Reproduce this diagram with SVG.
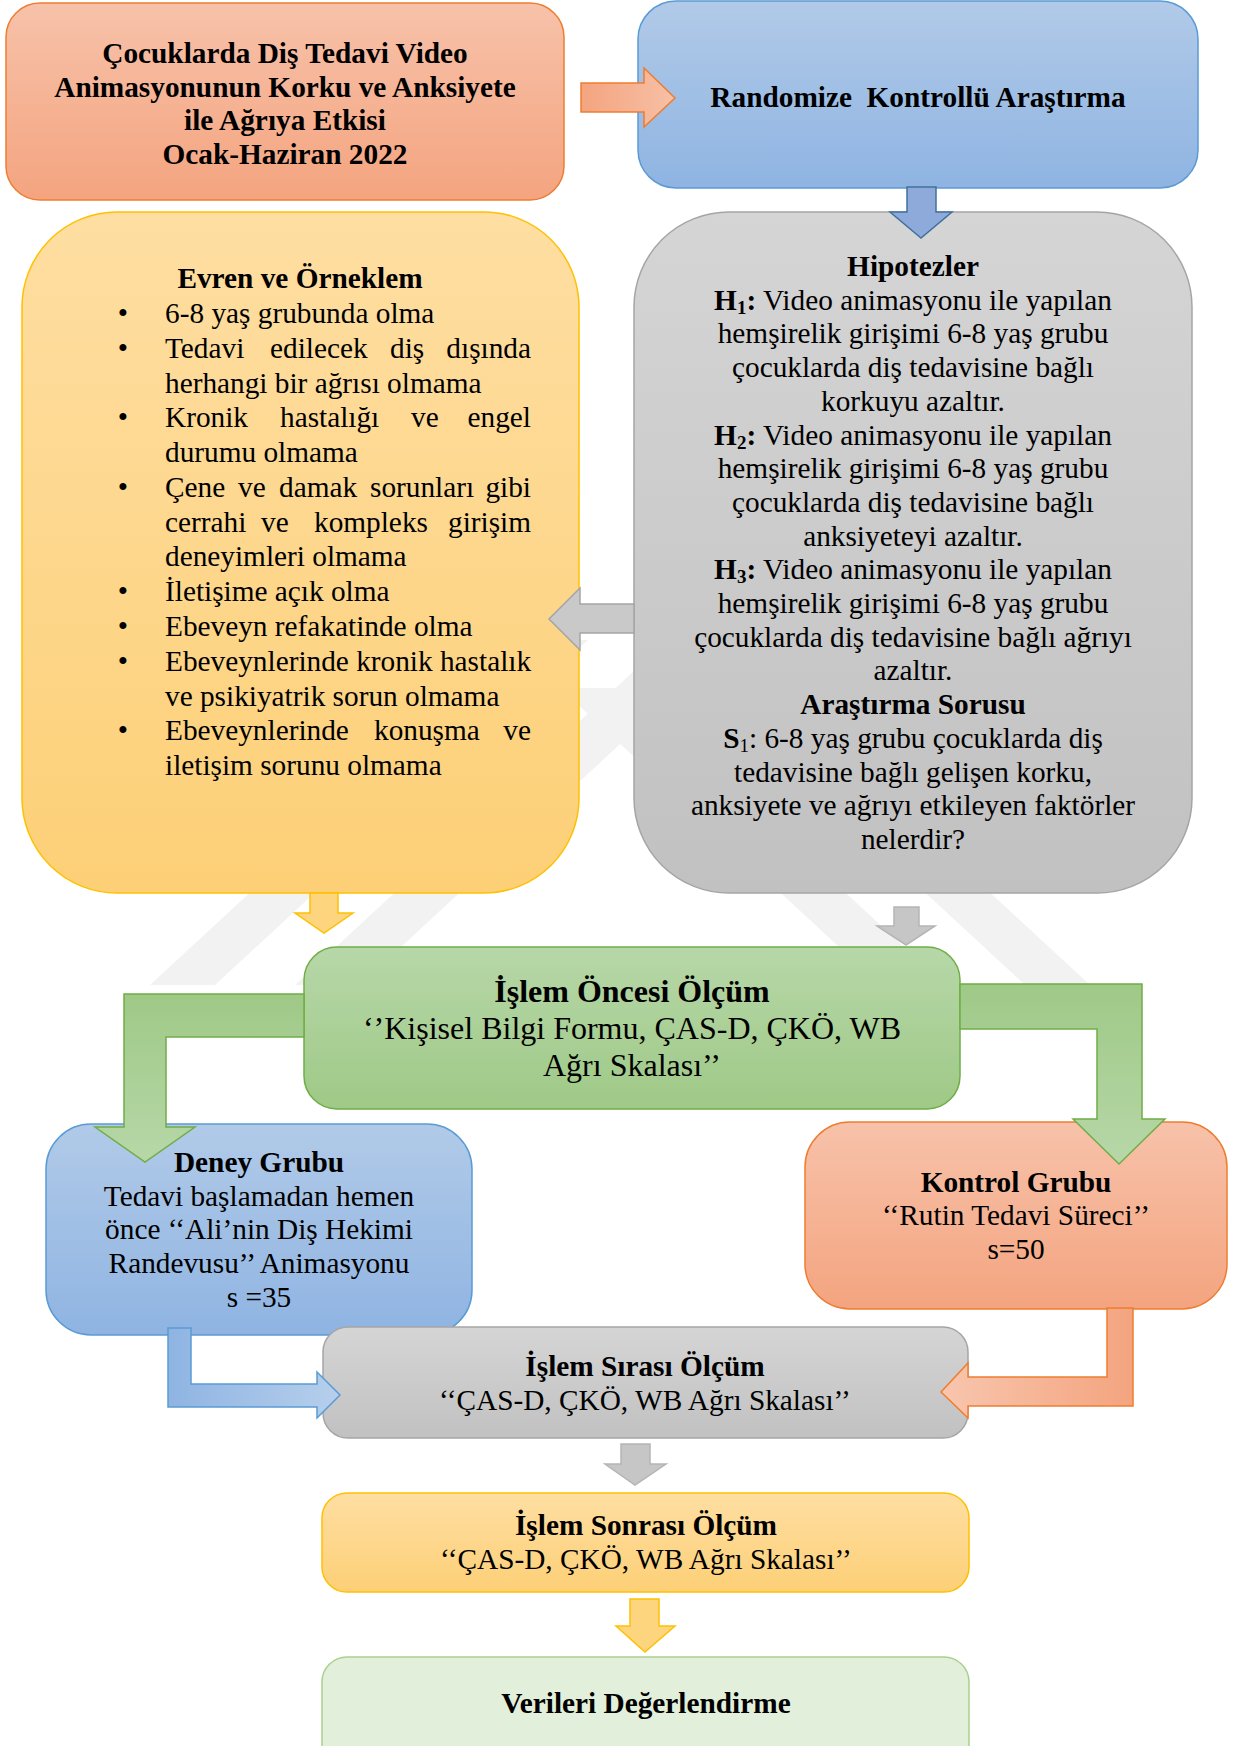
<svg xmlns="http://www.w3.org/2000/svg" width="1233" height="1746" viewBox="0 0 1233 1746">
<defs>
<linearGradient id="gOrange" x1="0" y1="0" x2="0" y2="1"><stop offset="0" stop-color="#f7c2aa"/><stop offset="1" stop-color="#f4a47f"/></linearGradient>
<linearGradient id="gBlue" x1="0" y1="0" x2="0" y2="1"><stop offset="0" stop-color="#b1cae8"/><stop offset="1" stop-color="#8fb4e2"/></linearGradient>
<linearGradient id="gYellow" x1="0" y1="0" x2="0" y2="1"><stop offset="0" stop-color="#fedea2"/><stop offset="1" stop-color="#fdd077"/></linearGradient>
<linearGradient id="gGray" x1="0" y1="0" x2="0" y2="1"><stop offset="0" stop-color="#d5d5d5"/><stop offset="1" stop-color="#c1c1c1"/></linearGradient>
<linearGradient id="gGreen" x1="0" y1="0" x2="0" y2="1"><stop offset="0" stop-color="#b7d7a8"/><stop offset="1" stop-color="#9fc987"/></linearGradient>
<linearGradient id="gGreenUp" x1="0" y1="1" x2="0" y2="0"><stop offset="0" stop-color="#b7d7a8"/><stop offset="1" stop-color="#9fc987"/></linearGradient>
<linearGradient id="gBlueH" x1="0" y1="0" x2="1" y2="0"><stop offset="0" stop-color="#8fb4e2"/><stop offset="1" stop-color="#b6cfec"/></linearGradient>
<linearGradient id="gOrangeH" x1="1" y1="0" x2="0" y2="0"><stop offset="0" stop-color="#f4a47f"/><stop offset="1" stop-color="#f8c6ae"/></linearGradient>
<linearGradient id="gOrangeR" x1="0" y1="0" x2="1" y2="0"><stop offset="0" stop-color="#f4a47f"/><stop offset="1" stop-color="#f7c0a6"/></linearGradient>
<style>
text{font-family:"Liberation Serif","Times New Roman",serif;font-size:29.3px;fill:#000}
.c{text-anchor:middle}
.b{font-weight:bold}
.e{text-anchor:end}
.sub{font-size:19px}
.big{font-size:32px}
.or{fill:url(#gOrange);stroke:#ed7d31;stroke-width:1.5}
.bl{fill:url(#gBlue);stroke:#5b9bd5;stroke-width:1.5}
.ye{fill:url(#gYellow);stroke:#ffc000;stroke-width:1.5}
.gr{fill:url(#gGray);stroke:#a5a5a5;stroke-width:1.5}
.gn{fill:url(#gGreen);stroke:#70ad47;stroke-width:1.5}
.lg{fill:#e2efda;stroke:#a9d18e;stroke-width:1.5}
.wm{fill:#f2f2f2}
</style>
</defs>
<rect width="1233" height="1746" fill="#ffffff"/>
<g id="watermark">
<polygon class="wm" points="150,985 215,985 588,640 523,640"/>
<polygon class="wm" points="295,985 360,985 700,670 635,670"/>
<polygon class="wm" points="1090,985 1025,985 717,700 782,700"/>
<polygon class="wm" points="945,985 880,985 560,688 625,688"/>
</g>
<g id="title">
<rect class="or" x="6" y="3" width="558" height="197" rx="34"/>
<text class="c b" x="285" y="63">Çocuklarda Diş Tedavi Video</text>
<text class="c b" x="285" y="97">Animasyonunun Korku ve Anksiyete</text>
<text class="c b" x="285" y="130">ile Ağrıya Etkisi</text>
<text class="c b" x="285" y="164">Ocak-Haziran 2022</text>
</g>
<g id="randomize">
<rect class="bl" x="638" y="1" width="560" height="187" rx="38"/>
<text class="c b" x="918" y="107" xml:space="preserve">Randomize  Kontrollü Araştırma</text>
</g>
<g id="evren">
<rect class="ye" x="22" y="212" width="557" height="681" rx="95"/>
<text class="c b" x="300" y="288">Evren ve Örneklem</text>
<g class="c">
<text class="c" x="123" y="323">•</text>
<text class="c" x="123" y="358">•</text>
<text class="c" x="123" y="427">•</text>
<text class="c" x="123" y="497">•</text>
<text class="c" x="123" y="601">•</text>
<text class="c" x="123" y="636">•</text>
<text class="c" x="123" y="671">•</text>
<text class="c" x="123" y="740">•</text>
</g>
<text x="165" y="323">6-8 yaş grubunda olma</text>
<text y="358"><tspan x="165">Tedavi</tspan><tspan x="270">edilecek</tspan><tspan x="390">diş</tspan><tspan x="531" text-anchor="end">dışında</tspan></text>
<text x="165" y="392.5">herhangi bir ağrısı olmama</text>
<text y="427"><tspan x="165">Kronik</tspan><tspan x="280">hastalığı</tspan><tspan x="411">ve</tspan><tspan x="531" text-anchor="end">engel</tspan></text>
<text x="165" y="462">durumu olmama</text>
<text y="497"><tspan x="165">Çene</tspan><tspan x="238">ve</tspan><tspan x="279">damak</tspan><tspan x="370">sorunları</tspan><tspan x="531" text-anchor="end">gibi</tspan></text>
<text y="531.6"><tspan x="165">cerrahi</tspan><tspan x="261">ve</tspan><tspan x="314">kompleks</tspan><tspan x="531" text-anchor="end">girişim</tspan></text>
<text x="165" y="566.4">deneyimleri olmama</text>
<text x="165" y="601">İletişime açık olma</text>
<text x="165" y="636">Ebeveyn refakatinde olma</text>
<text x="165" y="671">Ebeveynlerinde kronik hastalık</text>
<text x="165" y="705.5">ve psikiyatrik sorun olmama</text>
<text y="740"><tspan x="165">Ebeveynlerinde</tspan><tspan x="374">konuşma</tspan><tspan x="531" text-anchor="end">ve</tspan></text>
<text x="165" y="775">iletişim sorunu olmama</text>
</g>
<g id="hipotezler">
<rect class="gr" x="634" y="212" width="558" height="681" rx="95"/>
<text class="c b" x="913" y="276">Hipotezler</text>
<text class="c" x="913" y="309.7"><tspan class="b">H</tspan><tspan class="b sub" dy="4">1</tspan><tspan class="b" dy="-4">:</tspan> Video animasyonu ile yapılan</text>
<text class="c" x="913" y="343.4">hemşirelik girişimi 6-8 yaş grubu</text>
<text class="c" x="913" y="377.1">çocuklarda diş tedavisine bağlı</text>
<text class="c" x="913" y="410.8">korkuyu azaltır.</text>
<text class="c" x="913" y="444.5"><tspan class="b">H</tspan><tspan class="b sub" dy="4">2</tspan><tspan class="b" dy="-4">:</tspan> Video animasyonu ile yapılan</text>
<text class="c" x="913" y="478.2">hemşirelik girişimi 6-8 yaş grubu</text>
<text class="c" x="913" y="511.9">çocuklarda diş tedavisine bağlı</text>
<text class="c" x="913" y="545.6">anksiyeteyi azaltır.</text>
<text class="c" x="913" y="579.3"><tspan class="b">H</tspan><tspan class="b sub" dy="4">3</tspan><tspan class="b" dy="-4">:</tspan> Video animasyonu ile yapılan</text>
<text class="c" x="913" y="613">hemşirelik girişimi 6-8 yaş grubu</text>
<text class="c" x="913" y="646.7">çocuklarda diş tedavisine bağlı ağrıyı</text>
<text class="c" x="913" y="680.4">azaltır.</text>
<text class="c b" x="913" y="714.1">Araştırma Sorusu</text>
<text class="c" x="913" y="747.8"><tspan class="b">S</tspan><tspan class="sub" dy="4">1</tspan><tspan dy="-4">: 6-8 yaş grubu çocuklarda diş</tspan></text>
<text class="c" x="913" y="781.5">tedavisine bağlı gelişen korku,</text>
<text class="c" x="913" y="815.2">anksiyete ve ağrıyı etkileyen faktörler</text>
<text class="c" x="913" y="848.9">nelerdir?</text>
</g>
<g id="islem-oncesi">
<rect class="gn" x="304" y="947" width="656" height="162" rx="33"/>
<text class="c b big" x="632" y="1002">İşlem Öncesi Ölçüm</text>
<text class="c big" x="632" y="1039">‘’Kişisel Bilgi Formu, ÇAS-D, ÇKÖ, WB</text>
<text class="c big" x="632" y="1076">Ağrı Skalası’’</text>
</g>
<g id="deney">
<rect class="bl" x="46" y="1124" width="426" height="211" rx="45"/>
<text class="c b" x="259" y="1172">Deney Grubu</text>
<text class="c" x="259" y="1206">Tedavi başlamadan hemen</text>
<text class="c" x="259" y="1239">önce ‘‘Ali’nin Diş Hekimi</text>
<text class="c" x="259" y="1273">Randevusu’’ Animasyonu</text>
<text class="c" x="259" y="1307">s =35</text>
</g>
<g id="kontrol">
<rect class="or" x="805" y="1122" width="422" height="187" rx="45"/>
<text class="c b" x="1016" y="1192">Kontrol Grubu</text>
<text class="c" x="1016" y="1225">‘‘Rutin Tedavi Süreci’’</text>
<text class="c" x="1016" y="1259">s=50</text>
</g>
<g id="islem-sirasi">
<rect class="gr" x="323" y="1327" width="645" height="111" rx="25"/>
<text class="c b" x="645" y="1376">İşlem Sırası Ölçüm</text>
<text class="c" x="645" y="1410">‘‘ÇAS-D, ÇKÖ, WB Ağrı Skalası’’</text>
</g>
<g id="islem-sonrasi">
<rect class="ye" x="322" y="1493" width="647" height="99" rx="25"/>
<text class="c b" x="646" y="1535">İşlem Sonrası Ölçüm</text>
<text class="c" x="646" y="1569">‘‘ÇAS-D, ÇKÖ, WB Ağrı Skalası’’</text>
</g>
<g id="verileri">
<rect class="lg" x="322" y="1657" width="647" height="115" rx="25"/>
<text class="c b" x="646" y="1713">Verileri Değerlendirme</text>
</g>
<g id="connectors">
<path d="M581,83 H644 V68 L675,98 L644,127 V112 H581 Z" fill="url(#gOrangeR)" stroke="#ed7d31" stroke-width="1.5"/>
<path d="M907,187 H936 V212 H952 L921,238 L890,212 H907 Z" fill="#8eaadb" stroke="#41719c" stroke-width="1.5"/>
<path d="M634,604 H580 V588 L549,619 L580,650 V633 H634 Z" fill="#c9c9c9" stroke="#a5a5a5" stroke-width="1.5"/>
<path d="M310,893 H338 V913 H353 L324,933 L295,913 H310 Z" fill="#fed57f" stroke="#ffc000" stroke-width="1.5"/>
<path d="M894,907 H919 V926 H935 L906,945 L877,926 H894 Z" fill="#c6c6c6" stroke="#b5b5b5" stroke-width="1.5"/>
<path d="M304,994 H124 V1127 H95 L145,1162 L195,1127 H166 V1037 H304 Z" fill="url(#gGreenUp)" stroke="#70ad47" stroke-width="1.5"/>
<path d="M960,984 H1142 V1119 H1165 L1119,1164 L1073,1119 H1097 V1029 H960 Z" fill="url(#gGreenUp)" stroke="#70ad47" stroke-width="1.5"/>
<path d="M168,1328 H191 V1384 H317 V1372 L340,1395 L317,1418 V1407 H168 Z" fill="url(#gBlueH)" stroke="#5b9bd5" stroke-width="1.5"/>
<path d="M1133,1308 V1406 H968 V1418 L941,1392 L968,1363 V1377 H1107 V1308 Z" fill="url(#gOrangeH)" stroke="#ed7d31" stroke-width="1.5"/>
<path d="M621,1444 H650 V1464 H666 L635,1485 L605,1464 H621 Z" fill="#c6c6c6" stroke="#b5b5b5" stroke-width="1.5"/>
<path d="M630,1599 H659 V1626 H675 L645,1652 L616,1626 H630 Z" fill="#fed57f" stroke="#ffc000" stroke-width="1.5"/>
</g>
</svg>
